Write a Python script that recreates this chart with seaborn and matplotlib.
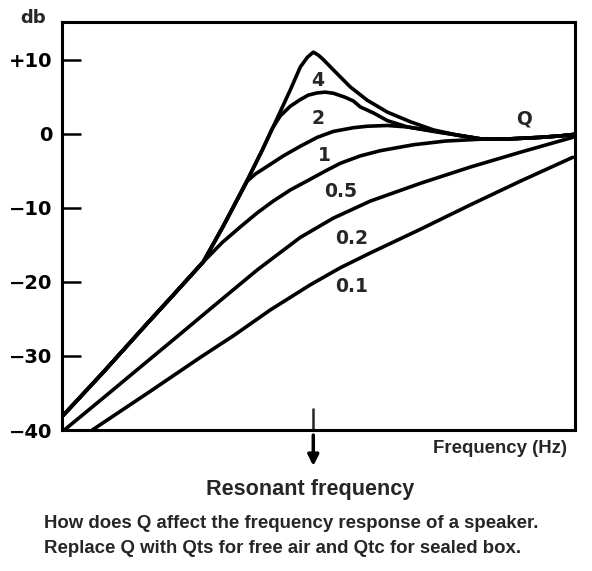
"""Speaker frequency response for different Q values."""

import matplotlib
matplotlib.use('Agg')
import matplotlib.pyplot as plt
from matplotlib.ticker import NullLocator
import pandas as pd
import seaborn as sns

# frequency as ratio f / fs (resonance at 1.0), level in dB
q4_freq = [0.100, 0.146, 0.212, 0.282, 0.365, 0.438, 0.546, 0.627, 0.719, 0.810,
           0.888, 0.947, 1.000, 1.047, 1.096, 1.202, 1.404, 1.641, 1.972, 2.435,
           3.008, 3.749, 4.631, 6.095, 8.028, 9.643, 10.96]
q4_db = [-38.2, -32.2, -26.1, -21.5, -17.3, -12.5, -6.3, -2.2, 2.1, 5.9,
         9.0, 10.3, 11.0, 10.6, 10.0, 8.6, 6.3, 4.5, 2.9, 1.6,
         0.5, -0.2, -0.7, -0.7, -0.5, -0.3, -0.1]

q2_freq = [0.100, 0.146, 0.212, 0.282, 0.365, 0.438, 0.546, 0.627, 0.687, 0.739,
           0.810, 0.888, 0.955, 1.037, 1.116, 1.202, 1.341, 1.444, 1.539, 1.734,
           1.972, 2.369, 3.008, 3.749, 4.631, 6.095, 8.028, 9.643, 10.96]
q2_db = [-38.2, -32.2, -26.1, -21.5, -17.3, -12.5, -6.3, -2.2, 0.7, 2.4,
         3.7, 4.6, 5.2, 5.5, 5.6, 5.45, 4.9, 4.4, 3.6, 2.8,
         1.75, 0.9, 0.3, -0.2, -0.7, -0.7, -0.5, -0.3, -0.1]

q1_freq = [0.100, 0.146, 0.212, 0.282, 0.365, 0.438, 0.546, 0.588, 0.650, 0.760,
           0.888, 1.037, 1.202, 1.444, 1.641, 1.972, 2.369, 2.847, 3.749, 4.631,
           6.095, 8.028, 9.643, 10.96]
q1_db = [-38.2, -32.2, -26.1, -21.5, -17.3, -12.5, -6.4, -5.45, -4.5, -3.0,
         -1.7, -0.5, 0.3, 0.8, 1.0, 1.1, 0.9, 0.5, -0.2, -0.7,
         -0.7, -0.5, -0.3, -0.1]

q05_freq = [0.100, 0.146, 0.212, 0.282, 0.365, 0.434, 0.512, 0.598, 0.693, 0.810,
            0.955, 1.116, 1.281, 1.539, 1.849, 2.503, 3.358, 4.631, 6.095, 8.028,
            9.643, 10.96]
q05_db = [-38.2, -32.2, -26.1, -21.5, -17.3, -14.7, -12.6, -10.7, -9.1, -7.6,
          -6.3, -5.05, -4.0, -3.0, -2.3, -1.5, -1.0, -0.75, -0.7, -0.5,
          -0.3, -0.1]

q02_freq = [0.103, 0.148, 0.212, 0.287, 0.407, 0.598, 0.888, 1.202, 1.687, 2.670,
            4.224, 6.680, 10.77]
q02_db = [-39.9, -35.5, -31.1, -27.4, -23.1, -18.4, -14.0, -11.4, -9.1, -6.7,
          -4.5, -2.5, -0.5]

q01_freq = [0.132, 0.224, 0.355, 0.480, 0.674, 0.973, 1.281, 1.687, 2.670, 4.224,
            6.680, 10.77]
q01_db = [-40.0, -34.8, -30.2, -27.3, -23.8, -20.4, -18.1, -16.1, -12.9, -9.6,
          -6.4, -3.2]

q_names = ['4', '2', '1', '0.5', '0.2', '0.1']
y_ticks = [10, 0, -10, -20, -30, -40]
y_tick_labels = ['+10', '0', '\u221210', '\u221220', '\u221230', '\u221240']
resonance = 1.0

curves = {
    '4': (q4_freq, q4_db),
    '2': (q2_freq, q2_db),
    '1': (q1_freq, q1_db),
    '0.5': (q05_freq, q05_db),
    '0.2': (q02_freq, q02_db),
    '0.1': (q01_freq, q01_db),
}

frames = [pd.DataFrame({'freq': f, 'db': d, 'Q': q}) for q, (f, d) in curves.items()]
df = pd.concat(frames, ignore_index=True)

sns.set_style('white')
plt.rcParams['font.family'] = ['DejaVu Sans']

fig = plt.figure(figsize=(5.92, 5.71), dpi=100)
ax = fig.add_axes([0.1047, 0.2469, 0.8666, 0.7137])

sns.lineplot(data=df, x='freq', y='db', hue='Q', hue_order=q_names,
             palette={q: 'black' for q in q_names}, estimator=None, sort=False,
             legend=False, linewidth=2.6, ax=ax)
for line in ax.lines:
    line.set_solid_joinstyle('round')
    line.set_solid_capstyle('round')

ax.set_xscale('log')
ax.set_xlim(0.1, 11.0)
ax.set_ylim(-40, 15)
ax.set_xlabel('')
ax.set_ylabel('')

for spine in ax.spines.values():
    spine.set_linewidth(2.2)
    spine.set_color('black')

ax.set_yticks(y_ticks)
ax.set_yticklabels(y_tick_labels, fontsize=14, fontweight='bold')
ax.tick_params(axis='y', direction='in', length=14, width=1.8, pad=7,
               left=True, colors='black')

ax.set_xticks([resonance])
ax.set_xticklabels([''])
ax.xaxis.set_minor_locator(NullLocator())
ax.tick_params(axis='x', direction='in', length=16, width=1.8, bottom=True)

# curve labels
label_pos = {
    '4': (1.037, 7.2),
    '2': (1.045, 2.0),
    '1': (1.11, -2.9),
    '0.5': (1.29, -7.8),
    '0.2': (1.42, -14.1),
    '0.1': (1.42, -20.6),
}
for q, (x, y) in label_pos.items():
    ax.text(x, y, q, fontsize=13.5, fontweight='bold', ha='center', va='center')
ax.text(6.87, 2.0, 'Q', fontsize=13.5, fontweight='bold', ha='center', va='center')

# resonance arrow below the axis
ax.annotate('', xy=(resonance, 0.184), xytext=(resonance, 0.238),
            xycoords=('data', 'figure fraction'),
            textcoords=('data', 'figure fraction'),
            arrowprops=dict(arrowstyle='-|>', lw=2.5, color='black',
                            mutation_scale=16, shrinkA=0, shrinkB=0))

arial = ['Liberation Sans', 'DejaVu Sans']
fig.text(0.0557, 0.9685, 'db', fontsize=13, fontweight='bold', ha='center', va='center')
fig.text(0.8446, 0.2137, 'Frequency (Hz)', fontsize=13.4, fontweight='bold',
         family=arial, ha='center', va='center')
fig.text(0.524, 0.1436, 'Resonant frequency', fontsize=15.6, fontweight='bold',
         family=arial, ha='center', va='center')
fig.text(0.0743, 0.084, 'How does Q affect the frequency response of a speaker.',
         fontsize=13.4, fontweight='bold', family=arial, ha='left', va='center')
fig.text(0.0743, 0.040, 'Replace Q with Qts for free air and Qtc for sealed box.',
         fontsize=13.4, fontweight='bold', family=arial, ha='left', va='center')

fig.savefig('out.png', dpi=100)
